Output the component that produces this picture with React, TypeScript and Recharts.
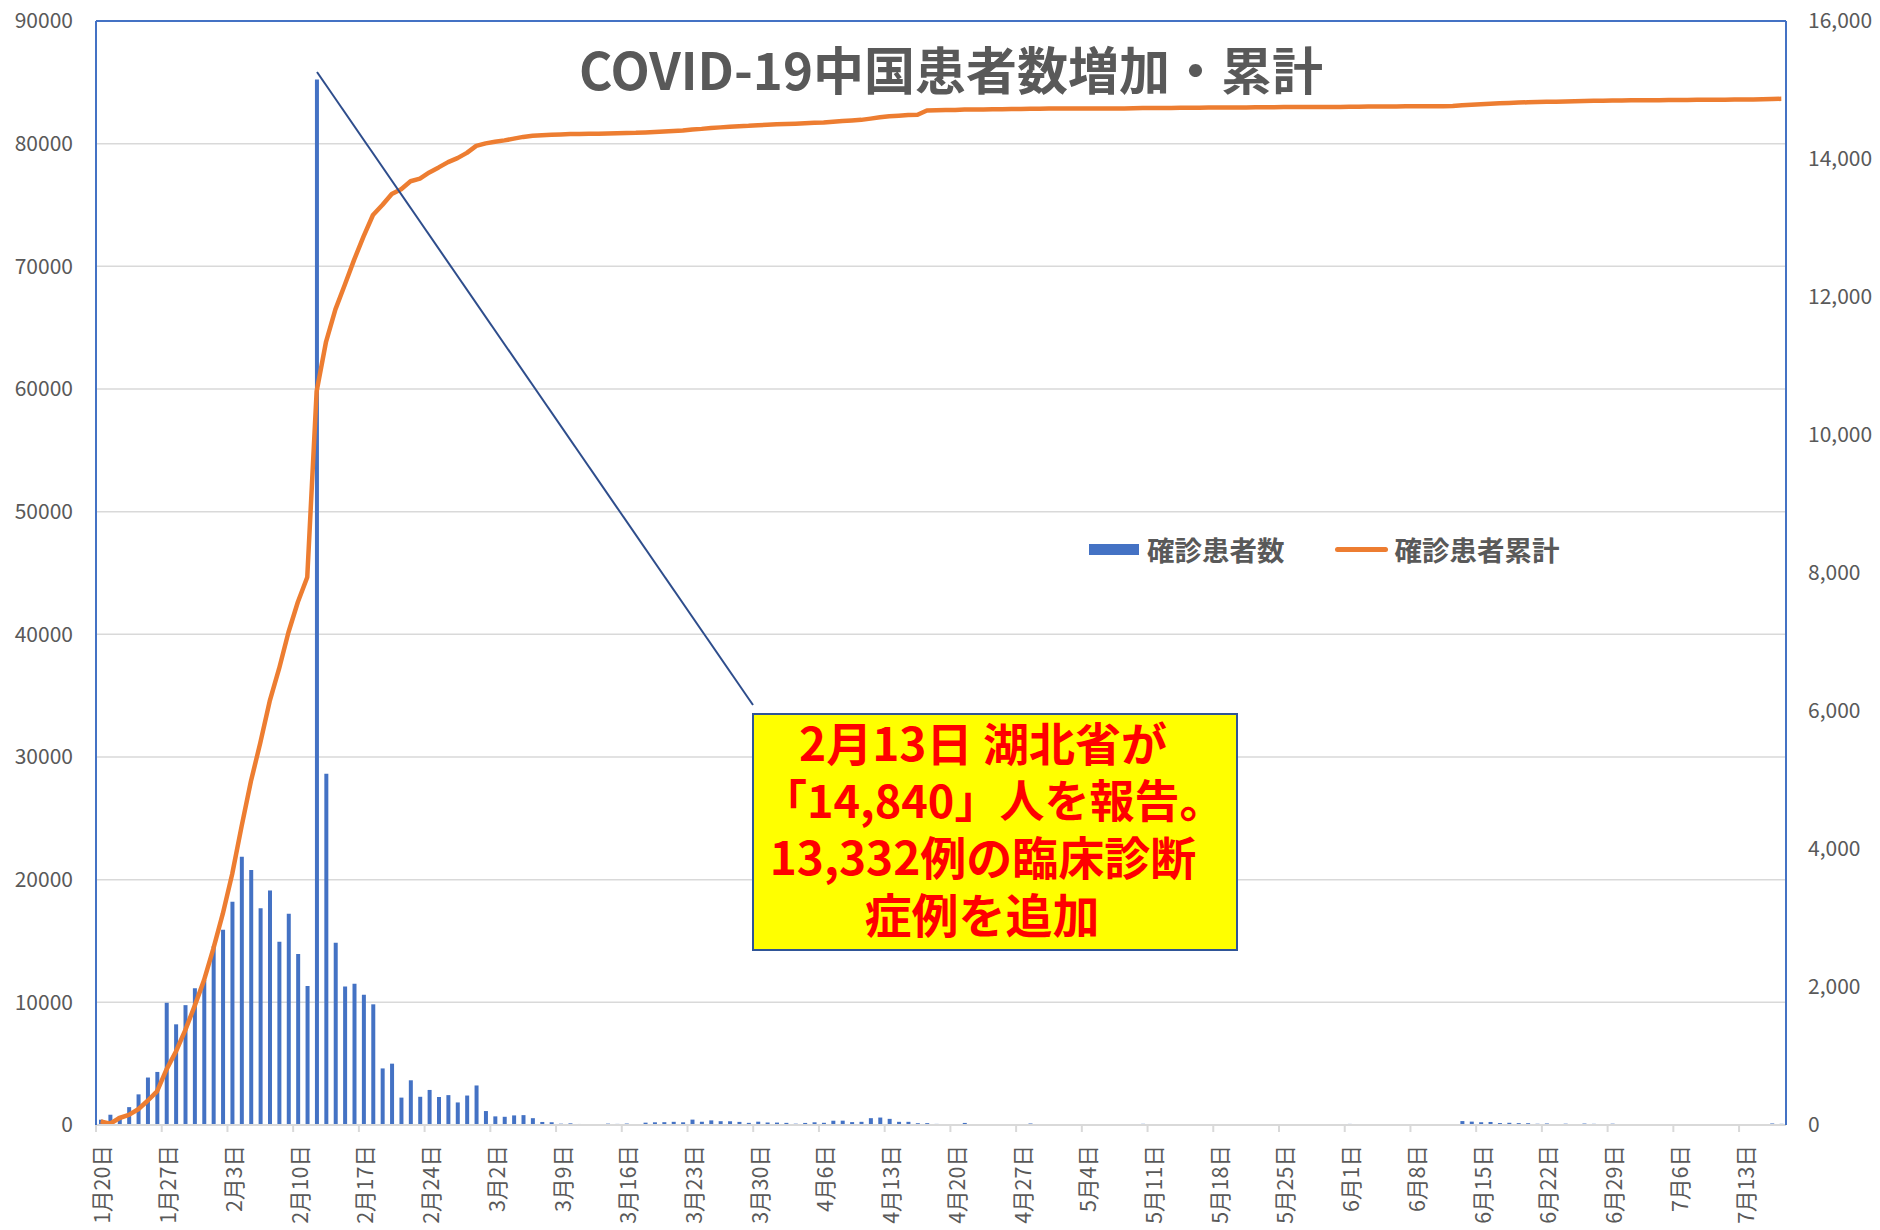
import React from "react";
import {
  ComposedChart,
  Bar,
  Line,
  XAxis,
  YAxis,
  CartesianGrid,
  ReferenceLine,
  Legend,
} from "recharts";

// month, first day, last day of the period shown
const monthSpans = [
  [1, 20, 31],
  [2, 1, 29],
  [3, 1, 31],
  [4, 1, 30],
  [5, 1, 31],
  [6, 1, 30],
  [7, 1, 17],
];

const dateLabels: string[] = [];
monthSpans.forEach(([m, from, to]) => {
  for (let d = from; d <= to; d++) dateLabels.push(`${m}月${d}日`);
});

// 確診患者数 (daily new confirmed)
const dailyJan = [77, 149, 131, 259, 444, 688, 769, 1771, 1459, 1737, 1982, 2102];
const dailyFeb = [
  2590, 2829, 3235, 3887, 3694, 3143, 3399, 2656, 3062, 2478, 2015, 15152, 5090, 2641, 2009,
  2048, 1886, 1749, 820, 889, 397, 648, 409, 508, 406, 433, 327, 427, 573,
];
const dailyMar = [
  202, 125, 119, 139, 143, 99, 44, 40, 19, 24, 15, 8, 11, 20, 16, 21, 13, 34, 39, 41, 46, 39, 78,
  47, 67, 55, 54, 45, 31, 48, 36,
];
const dailyApr = [
  35, 31, 19, 30, 39, 32, 62, 63, 42, 46, 99, 108, 89, 46, 46, 26, 27, 16, 12, 11, 30, 10, 6, 12,
  11, 3, 6, 22, 4, 12,
];
const dailyMay = [
  1, 2, 3, 1, 2, 2, 1, 1, 14, 17, 1, 7, 3, 4, 8, 5, 7, 6, 5, 2, 4, 3, 11, 3, 7, 1, 2, 4, 1, 4, 2,
];
const dailyJun = [
  16, 5, 5, 7, 5, 3, 6, 3, 3, 2, 7, 11, 57, 49, 40, 44, 28, 32, 27, 26, 18, 22, 12, 19, 13, 21, 17,
  12, 19, 3,
];
const dailyJul = [3, 5, 3, 8, 4, 8, 7, 9, 4, 2, 7, 8, 3, 7, 10, 22, 17];

// 確診患者累計 (cumulative confirmed)
const totalJan = [291, 100, 571, 830, 1287, 1975, 2744, 4515, 5974, 7711, 9692, 11791];
const totalFeb = [
  14380, 17205, 20438, 24324, 28018, 31161, 34546, 37198, 40171, 42638, 44653, 59804, 63851,
  66492, 68500, 70548, 72436, 74185, 75002, 75891, 76288, 76936, 77150, 77658, 78064, 78497,
  78824, 79251, 79824,
];
const totalMar = [
  80026, 80151, 80270, 80409, 80552, 80651, 80695, 80735, 80754, 80778, 80793, 80801, 80812,
  80832, 80848, 80869, 80882, 80916, 80955, 80996, 81042, 81081, 81159, 81206, 81273, 81328,
  81382, 81427, 81458, 81506, 81542,
];
const totalApr = [
  81577, 81608, 81627, 81657, 81696, 81728, 81790, 81853, 81895, 81941, 82040, 82148, 82237,
  82283, 82329, 82355, 82707, 82723, 82735, 82746, 82776, 82786, 82792, 82804, 82815, 82818,
  82824, 82846, 82850, 82862,
];
const totalMay = [
  82863, 82865, 82868, 82869, 82871, 82873, 82874, 82875, 82889, 82906, 82907, 82914, 82917,
  82921, 82929, 82934, 82941, 82947, 82952, 82954, 82958, 82961, 82972, 82975, 82982, 82983,
  82985, 82989, 82990, 82994, 82996,
];
const totalJun = [
  83012, 83017, 83022, 83029, 83034, 83037, 83043, 83046, 83049, 83051, 83058, 83069, 83126,
  83175, 83215, 83259, 83287, 83319, 83346, 83372, 83390, 83412, 83424, 83443, 83456, 83477,
  83494, 83506, 83525, 83528,
];
const totalJul = [
  83531, 83536, 83539, 83547, 83551, 83559, 83566, 83575, 83579, 83581, 83588, 83596, 83599,
  83606, 83616, 83638, 83655,
];

const dailyNew = [
  ...dailyJan, ...dailyFeb, ...dailyMar, ...dailyApr, ...dailyMay, ...dailyJun, ...dailyJul,
];
const cumulative = [
  ...totalJan, ...totalFeb, ...totalMar, ...totalApr, ...totalMay, ...totalJun, ...totalJul,
];

const leftTicks = [0, 10000, 20000, 30000, 40000, 50000, 60000, 70000, 80000, 90000];
const rightTicks = [0, 2000, 4000, 6000, 8000, 10000, 12000, 14000, 16000];

const noteLines = ["2月13日 湖北省が", "「14,840」人を報告。", "13,332例の臨床診断", "症例を追加"];

const chartData = dateLabels.map((date, i) => ({
  date,
  daily: dailyNew[i],
  total: cumulative[i],
}));

const GRAY = "#595959";
const BLUE = "#4472C4";
const ORANGE = "#ED7D31";
const FONT = "'Noto Sans CJK JP', 'Noto Sans', sans-serif";

const DateTick = (props: any) => {
  const { x, y, payload } = props;
  const half = payload && payload.offset ? payload.offset : 4.7;
  return (
    <g>
      <line x1={x - half} x2={x - half} y1={y} y2={y + 7} stroke="#D9D9D9" strokeWidth={2} />
      <text
        transform={`translate(${x + 2},${y + 20}) rotate(-90)`}
        textAnchor="end"
        dy="0.36em"
        fill={GRAY}
        fontSize={21.5}
      >
        {payload.value}
      </text>
    </g>
  );
};

const LegendBox = () => (
  <div style={{ display: "flex", alignItems: "center", fontFamily: FONT, fontWeight: 700, fontSize: 27.5, color: GRAY }}>
    <span style={{ display: "inline-block", width: 50, height: 11, background: BLUE, marginRight: 8 }} />
    <span style={{ marginRight: 50 }}>確診患者数</span>
    <span style={{ display: "inline-block", width: 53, height: 5, borderRadius: 3, background: ORANGE, marginRight: 7 }} />
    <span>確診患者累計</span>
  </div>
);

export default function App() {
  return (
    <div style={{ position: "absolute", left: 0, top: 0, width: 1880, height: 1230, background: "#fff", fontFamily: FONT }}>
      <ComposedChart
        width={1880}
        height={1230}
        data={chartData}
        margin={{ top: 21, right: 14, left: 16, bottom: 0 }}
      >
        <CartesianGrid yAxisId="left" vertical={false} stroke="#D9D9D9" strokeWidth={1.5} />
        <XAxis
          dataKey="date"
          interval={6}
          height={105}
          tickSize={0}
          tickMargin={0}
          tickLine={false}
          axisLine={{ stroke: "#D9D9D9", strokeWidth: 2 }}
          tick={<DateTick />}
        />
        <YAxis
          yAxisId="left"
          domain={[0, 90000]}
          ticks={leftTicks}
          width={80}
          tickSize={0}
          tickMargin={23}
          tickLine={false}
          axisLine={{ stroke: BLUE, strokeWidth: 2 }}
          tick={{ fill: GRAY, fontSize: 21 }}
        />
        <YAxis
          yAxisId="right"
          orientation="right"
          domain={[0, 16000]}
          ticks={rightTicks}
          width={80}
          tickSize={0}
          tickMargin={22}
          tickLine={false}
          axisLine={{ stroke: BLUE, strokeWidth: 2 }}
          tick={{ fill: GRAY, fontSize: 21 }}
          tickFormatter={(v: number) => v.toLocaleString("en-US")}
        />
        <ReferenceLine yAxisId="left" y={90000} stroke={BLUE} strokeWidth={2} />
        <Bar yAxisId="right" dataKey="daily" name="確診患者数" fill={BLUE} barSize={4} isAnimationActive={false} />
        <Line
          yAxisId="left"
          type="linear"
          dataKey="total"
          name="確診患者累計"
          stroke={ORANGE}
          strokeWidth={4.5}
          strokeLinejoin="round"
          dot={false}
          activeDot={false}
          isAnimationActive={false}
        />
        <Legend
          layout="horizontal"
          verticalAlign="middle"
          align="center"
          wrapperStyle={{ left: 1089, top: 529, width: "auto" }}
          content={() => <LegendBox />}
        />
      </ComposedChart>

      <div
        style={{
          position: "absolute",
          left: 451,
          top: 37,
          width: 1000,
          textAlign: "center",
          fontSize: 51,
          lineHeight: "62px",
          fontWeight: 700,
          color: GRAY,
        }}
      >
        COVID-19中国患者数増加・累計
      </div>

      <svg width={1880} height={1230} style={{ position: "absolute", left: 0, top: 0, pointerEvents: "none" }}>
        <line x1={317} y1={72} x2={753} y2={705} stroke="#2E4D8C" strokeWidth={2} />
      </svg>

      <div
        style={{
          position: "absolute",
          left: 752,
          top: 713,
          width: 486,
          height: 238,
          boxSizing: "border-box",
          background: "#FFFF00",
          border: "2px solid #2F5597",
        }}
      >
        <div
          style={{
            marginTop: -2,
            paddingRight: 24,
            textAlign: "center",
            fontSize: 46,
            lineHeight: "57px",
            fontWeight: 700,
            color: "#FF0000",
            whiteSpace: "pre",
          }}
        >
          {noteLines.map((t, i) => (
            <div key={i} style={{ position: "relative", left: i === 1 ? 8 : i === 3 ? -1 : 0, fontSize: i === 1 ? 45 : i === 3 ? 47 : 46 }}>
              {t}
            </div>
          ))}
        </div>
      </div>
    </div>
  );
}
